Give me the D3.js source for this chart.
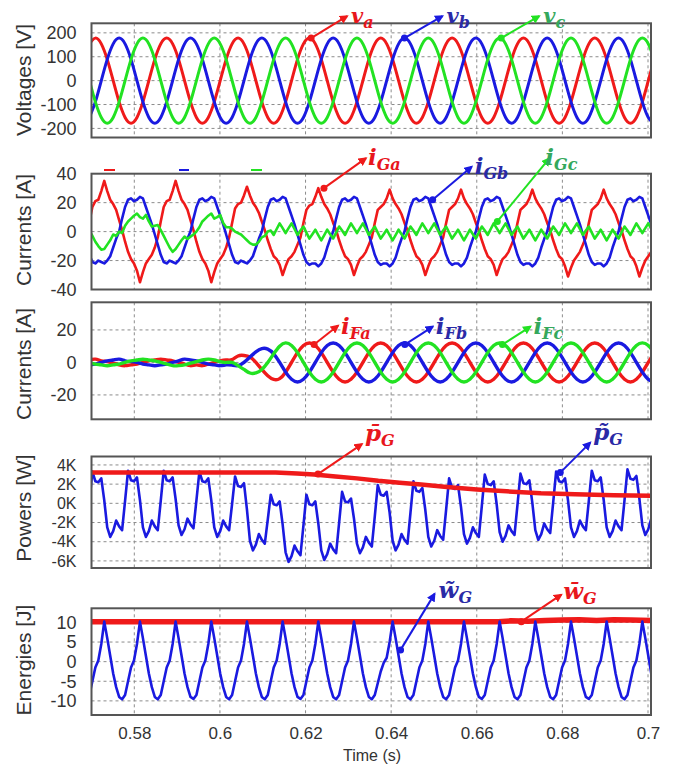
<!DOCTYPE html>
<meta charset="utf-8">
<head>
  <title>Grid, filter and power waveforms</title>
</head>

<style>
body { margin: 0; background: #fff; }
text {
  font-family: "Liberation Sans", Arial, sans-serif;
  fill: #333;
}
.grid line {
  stroke: #8c8c8c;
  stroke-width: 1;
  stroke-dasharray: 3,3;
}
.axis path { display: none; }
.axis text { fill: #333; }
</style>

<body>
  <svg width="676" height="767"></svg>

  <script src="https://cdnjs.cloudflare.com/ajax/libs/d3/7.8.5/d3.min.js"></script>
  <script>

// ---- ticks
var timeTicks = [0.58, 0.6, 0.62, 0.64, 0.66, 0.68, 0.7];
var voltageTicks = [200, 100, 0, -100, -200];
var gridCurrentTicks = [40, 20, 0, -20, -40];
var filterCurrentTicks = [20, 0, -20];
var powerTicks = [4, 2, 0, -2, -4, -6];          // kW, shown as "4K"
var energyTicks = [10, 5, 0, -5, -10];

// ---- sampling of the traces (uniform time grids)
var coarseStart = 0.56951, coarseStep = 0.0013889;   // 30 deg of 60 Hz
var fineStart = 0.56951, fineStep = 0.00069444;      // 15 deg of 60 Hz

// ---- grid voltages (V), coarse grid
var voltA = [
  154,178,154,89,0,-89,-154,-178,-154,-89,0,89,
  154,178,154,89,0,-89,-154,-178,-154,-89,0,89,
  154,178,154,89,0,-89,-154,-178,-154,-89,0,89,
  154,178,154,89,0,-89,-154,-178,-154,-89,0,89,
  154,178,154,89,0,-89,-154,-178,-154,-89,0,89,
  154,178,154,89,0,-89,-154,-178,-154,-89,0,89,
  154,178,154,89,0,-89,-154,-178,-154,-89,0,89,
  154,178,154,89,0,-89,-154,-178,-154,-89,0,89];
var voltB = [
  -154,-89,0,89,154,178,154,89,0,-89,-154,-178,
  -154,-89,0,89,154,178,154,89,0,-89,-154,-178,
  -154,-89,0,89,154,178,154,89,0,-89,-154,-178,
  -154,-89,0,89,154,178,154,89,0,-89,-154,-178,
  -154,-89,0,89,154,178,154,89,0,-89,-154,-178,
  -154,-89,0,89,154,178,154,89,0,-89,-154,-178,
  -154,-89,0,89,154,178,154,89,0,-89,-154,-178,
  -154,-89,0,89,154,178,154,89,0,-89,-154,-178];
var voltC = [
  0,-89,-154,-178,-154,-89,0,89,154,178,154,89,
  0,-89,-154,-178,-154,-89,0,89,154,178,154,89,
  0,-89,-154,-178,-154,-89,0,89,154,178,154,89,
  0,-89,-154,-178,-154,-89,0,89,154,178,154,89,
  0,-89,-154,-178,-154,-89,0,89,154,178,154,89,
  0,-89,-154,-178,-154,-89,0,89,154,178,154,89,
  0,-89,-154,-178,-154,-89,0,89,154,178,154,89,
  0,-89,-154,-178,-154,-89,0,89,154,178,154,89];

// ---- grid currents (A), fine grid
var gridCurA = [
  7,17,21,22,28,
  35,28,22,19,15,8,1,-7,-14,-19,-22,-27,-35,-28,-22,-19,-16,-11,-4,7,17,21,22,28,
  35,28,22,19,15,8,1,-7,-14,-19,-22,-27,-35,-28,-22,-19,-16,-11,-4,6,16,19,20,25,
  31,25,20,17,13,7,1,-6,-12,-17,-19,-23,-30,-24,-19,-17,-14,-9,-4,6,15,18,19,24,
  30,24,19,16,12,6,1,-6,-12,-17,-19,-23,-30,-24,-19,-17,-14,-9,-4,6,15,17,19,23,
  29,23,19,16,12,6,1,-6,-12,-17,-19,-23,-30,-24,-19,-17,-14,-9,-4,6,15,17,19,23,
  29,23,19,16,12,6,1,-6,-12,-17,-19,-23,-30,-24,-19,-17,-14,-9,-4,6,15,17,19,23,
  29,23,19,16,12,6,1,-6,-12,-17,-19,-24,-31,-25,-20,-17,-14,-9,-4,6,15,17,19,23,
  29,23,19,16,12,6,1,-6,-12,-17,-19,-24,-31,-25,-20,-17,-14,-9];
var gridCurB = [
  -16,-21,-22,-20,-21,-22,-20,-17,-11,-5,
  0,9,17,22,23,21,22,24,23,17,11,5,-2,-9,-16,-21,-22,-20,-21,-22,-20,-17,-11,-5,
  0,9,17,22,23,21,22,24,23,17,11,5,-2,-9,-16,-21,-22,-20,-21,-22,-20,-17,-11,-5,
  0,9,17,22,23,21,22,24,23,17,11,5,-2,-9,-16,-21,-23,-22,-22,-24,-22,-18,-11,-5,
  0,9,17,22,23,21,22,24,23,17,11,5,-2,-9,-16,-21,-23,-22,-22,-24,-22,-18,-11,-5,
  0,9,17,22,23,21,22,24,23,17,11,5,-2,-9,-16,-21,-23,-22,-22,-24,-22,-18,-11,-5,
  0,9,17,22,23,21,22,24,23,17,11,5,-2,-9,-16,-21,-23,-22,-22,-24,-22,-18,-11,-5,
  0,9,17,22,23,21,22,24,23,17,11,5,-2,-9,-16,-21,-23,-22,-22,-24,-22,-18,-11,-5,
  0,9,17,22,23,21,22,24,23,17,11,5,-2];
var gridCurC = [
  1,-3,-7,-10,-12.5,-12,-9,-6,-2,-3,0,-1,4,7,9,11,12.5,10,9,11.5,7,3.5,4,4.5,
  1,-3,-7,-11,-14,-12,-9,-6,-3.5,-5,-3.5,-2,0,3,7,9,11,12.5,9,10,11.5,6,3,3,
  2,0,-1,-2,-4,-6,-8,-9,-9,-7,-4,-3,0,
  0.7,-2.3,1.8,5.7,2.4,
  -1,2.4,5.7,1.8,-2.3,0.7,3.5,-0.7,-4.8,-1.8,1.3,-2.4,-6,-2.4,1.3,-1.8,-4.8,-0.7,3.5,0.7,-2.3,1.8,5.7,2.4,
  -1,2.4,5.7,1.8,-2.3,0.7,3.5,-0.7,-4.8,-1.8,1.3,-2.4,-6,-2.4,1.3,-1.8,-4.8,-0.7,3.5,0.7,-2.3,1.8,5.7,2.4,
  -1,2.4,5.7,1.8,-2.3,0.7,3.5,-0.7,-4.8,-1.8,1.3,-2.4,-6,-2.4,1.3,-1.8,-4.8,-0.7,3.5,0.7,-2.3,1.8,5.7,2.4,
  -1,2.4,5.7,1.8,-2.3,0.7,3.5,-0.7,-4.8,-1.8,1.3,-2.4,-6,-2.4,1.3,-1.8,-4.8,-0.7,3.5,0.7,-2.3,1.8,5.7,2.4,
  -1,2.4,5.7,1.8,-2.3,0.7,3.5,-0.7,-4.8,-1.8,1.3,-2.4,-6,-2.4,1.3,-1.8,-4.8,-0.7,3.5,0.7,-2.3,1.8,5.7,2.4,
  -1,2.4,5.7,1.8,-2.3];

// ---- filter currents (A), coarse grid
var filterCurA = [
  1.5,2,1,0.5,-0.5,-1.5,-2,-1.5,-1,0,1,1.5,2,1.5,1,0,-1,-2,-1.5,-2,-1,0,1,1.5,
  1.7,4,4.3,3.3,0,-4.3,-8.2,-10.5,-10,-6,0,6,
  10.4,12,10.4,6,0,-6,-10.4,-12,-10.4,-6,0,6,
  10.4,12,10.4,6,0,-6,-10.4,-12,-10.4,-6,0,6,
  10.4,12,10.4,6,0,-6,-10.4,-12,-10.4,-6,0,6,
  10.4,12,10.4,6,0,-6,-10.4,-12,-10.4,-6,0,6,
  10.4,12,10.4,6,0,-6,-10.4,-12,-10.4,-6,0,6];
var filterCurB = [
  -1.5,-1,0,1,1.5,2,1,0.5,0,-1,-1.5,-2,-1.5,-1,0,1,2,1.5,1,0,-1,-1.5,-2,-1.5,
  -1.7,-2,0,3.3,6.5,8.5,8.2,5.3,0,-6,-10.4,-12,
  -10.4,-6,0,6,10.4,12,10.4,6,0,-6,-10.4,-12,
  -10.4,-6,0,6,10.4,12,10.4,6,0,-6,-10.4,-12,
  -10.4,-6,0,6,10.4,12,10.4,6,0,-6,-10.4,-12,
  -10.4,-6,0,6,10.4,12,10.4,6,0,-6,-10.4,-12,
  -10.4,-6,0,6,10.4,12,10.4,6,0,-6,-10.4,-12];
var filterCurC = [
  0,-1,-1.5,-2,-1.5,-1,0,1,1.5,2,1.5,1,0,-1,-2,-2,-1.5,-0.5,0.5,1.5,2,1.5,0.5,0,
  0,-2,-4.3,-6.5,-6.5,-4.3,0,5.3,10,12,10.4,6,
  0,-6,-10.4,-12,-10.4,-6,0,6,10.4,12,10.4,6,
  0,-6,-10.4,-12,-10.4,-6,0,6,10.4,12,10.4,6,
  0,-6,-10.4,-12,-10.4,-6,0,6,10.4,12,10.4,6,
  0,-6,-10.4,-12,-10.4,-6,0,6,10.4,12,10.4,6,
  0,-6,-10.4,-12,-10.4,-6,0,6,10.4,12,10.4,6];

// ---- oscillating grid power (kW), fine grid
var powerOsc = [
  0.2,
  3.3,2.3,2.2,2.6,0.3,-2.5,-3.5,-2.9,-1.8,-2.4,-2.8,0.25,
  3.4,2.4,2.3,2.7,0.35,-2.5,-3.5,-2.9,-1.8,-2.4,-2.8,0.25,
  3.4,2.4,2.3,2.7,0.45,-2.3,-3.3,-2.7,-1.6,-2.2,-2.6,0.3,
  3.3,2.3,2.2,2.6,0.3,-2.5,-3.5,-2.9,-1.8,-2.4,-2.8,-0.05,
  2.8,1.8,1.7,2.1,-0.65,-3.9,-4.9,-4.3,-3.2,-3.8,-4.2,-1.7,
  0.9,-0.1,-0.2,0.2,-2.2,-5.1,-6.1,-5.5,-4.4,-5.0,-5.4,-2.3,
  0.9,-0.1,-0.2,0.2,-2.1,-4.9,-5.9,-5.3,-4.2,-4.8,-5.2,-2.05,
  1.2,0.2,0.1,0.5,-1.6,-4.2,-5.2,-4.6,-3.5,-4.1,-4.5,-1.35,
  1.9,0.9,0.8,1.2,-1.0,-3.9,-4.9,-4.3,-3.2,-3.8,-4.2,-1.0,
  2.3,1.3,1.2,1.6,-0.7,-3.5,-4.5,-3.9,-2.8,-3.4,-3.8,-0.65,
  2.6,1.6,1.5,1.9,-0.4,-3.2,-4.2,-3.6,-2.5,-3.1,-3.5,-0.3,
  3.0,2.0,1.9,2.3,-0.1,-3.0,-4.0,-3.4,-2.3,-2.9,-3.3,-0.15,
  3.1,2.1,2.0,2.4,0.05,-2.8,-3.8,-3.2,-2.1,-2.7,-3.1,0.05,
  3.3,2.3,2.2,2.6,0.3,-2.5,-3.5,-2.9,-1.8,-2.4,-2.8,0.25,
  3.4,2.4,2.3,2.7,0.35,-2.5,-3.5,-2.9,-1.8,-2.4,-2.8,0.3,
  3.55,2.55,2.45,2.85,0.5,-2.3,-3.3,-2.7,-1.6,-2.2];

// ---- mean grid power (kW)
var powerMeanTime = [0.57, 0.59, 0.605, 0.613, 0.618, 0.622, 0.627, 0.632, 0.637, 0.642, 0.647, 0.653, 0.66, 0.667, 0.675, 0.683, 0.692, 0.701];
var powerMean = [3.2, 3.2, 3.2, 3.2, 3.1, 3.0, 2.8, 2.6, 2.35, 2.15, 1.95, 1.7, 1.45, 1.25, 1.05, 0.95, 0.85, 0.8];

// ---- oscillating energy (J), fine grid
var energyOsc = [
  -8.5,-5,-1.5,0.3,4.5,
  10.2,6,1.5,-3,-6.5,-9,-9.6,-8.5,-5,-1.5,0.3,4.5,
  10.2,6,1.5,-3,-6.5,-9,-9.6,-8.5,-5,-1.5,0.3,4.5,
  10.2,6,1.5,-3,-6.5,-9,-9.5,-8.5,-5,-1.5,0.3,4.5,
  10.2,6,1.5,-3,-6.5,-9,-9.6,-8.5,-5,-1.5,0.3,4.5,
  10.2,6,1.5,-3,-6.5,-9,-9.6,-8.5,-5,-1.5,0.3,4.5,
  10.2,6,1.5,-3,-6.5,-9,-9.5,-8.5,-5,-1.5,0.3,4.5,
  10.2,6,1.5,-3,-6.5,-9,-9.6,-8.5,-5,-1.5,0.3,4.5,
  10.2,6,1.5,-3,-6.5,-9,-9.6,-8.5,-5.5,-2.5,-0.3,1,5,
  10.2,6,1.5,-3,-6.5,-9,-9.6,-8.5,-5,-1.5,0.3,4.5,
  10.2,6,1.5,-3,-6.5,-9,-9.6,-8.5,-5,-1.5,0.3,4.5,
  10.2,6,1.5,-3,-6.5,-9,-9.5,-8.5,-5,-1.5,0.3,4.5,
  10.2,6,1.5,-3,-6.5,-9,-9.6,-8.5,-5,-1.5,0.3,4.5,
  10.2,6,1.5,-3,-6.5,-9,-9.6,-8.5,-5,-1.5,0.3,4.5,
  10.2,6,1.5,-3,-6.5,-9,-9.5,-8.5,-5,-1.5,0.3,4.5,
  10.2,6,1.5,-3,-6.5,-9,-9.6,-8.5,-5,-1.5,0.3,4.5,
  10.2,6,1.5,-3,-6.5];

// ---- mean energy (J)
var energyMeanTime = [0.57, 0.62, 0.665, 0.668, 0.672, 0.676, 0.68, 0.684, 0.688, 0.692, 0.696, 0.701];
var energyMean = [10.2, 10.2, 10.2, 10.4, 10.3, 10.5, 10.6, 10.7, 10.5, 10.7, 10.6, 10.5];


var red = "#ef1a1a", blue = "#1a1ae0", green = "#22e222";
var redText = "#e8161c", blueText = "#2a2aa6", greenText = "#34a85c";

function sampled(values, start, step) {
  return values.map(function(v, i) { return [start + i * step, v]; });
}
function paired(times, values) {
  return times.map(function(t, i) { return [t, values[i]]; });
}

var svg = d3.select('svg');
var x = d3.scaleLinear().domain([0.57, 0.7007]).range([91.5, 651]);

var panels = [
  { top: 23.3, bottom: 137.5, domain: [-238, 240], ticks: voltageTicks, fmt: String,
    title: 'Voltages [V]', titleY: 80, tickFont: 18,
    series: [
      { data: sampled(voltA, coarseStart, coarseStep), color: red, width: 3, curve: d3.curveNatural },
      { data: sampled(voltB, coarseStart, coarseStep), color: blue, width: 3, curve: d3.curveNatural },
      { data: sampled(voltC, coarseStart, coarseStep), color: green, width: 3, curve: d3.curveNatural }
    ] },
  { top: 173.7, bottom: 289.5, domain: [-40, 40], ticks: gridCurrentTicks, fmt: String,
    title: 'Currents [A]', titleY: 230, tickFont: 18,
    series: [
      { data: sampled(gridCurA, fineStart, fineStep), color: red, width: 2.6 },
      { data: sampled(gridCurB, fineStart, fineStep), color: blue, width: 2.6 },
      { data: sampled(gridCurC, fineStart, fineStep), color: green, width: 2.6 }
    ] },
  { top: 302.3, bottom: 419.3, domain: [-35, 37], ticks: filterCurrentTicks, fmt: String,
    title: 'Currents [A]', titleY: 364, tickFont: 18,
    series: [
      { data: sampled(filterCurA, coarseStart, coarseStep), color: red, width: 3.4, curve: d3.curveNatural },
      { data: sampled(filterCurB, coarseStart, coarseStep), color: blue, width: 3.4, curve: d3.curveNatural },
      { data: sampled(filterCurC, coarseStart, coarseStep), color: green, width: 3.4, curve: d3.curveNatural }
    ] },
  { top: 456.5, bottom: 568, domain: [-6.74, 4.88], ticks: powerTicks, fmt: function(d) { return d + 'K'; },
    title: 'Powers [W]', titleY: 508, tickFont: 16,
    series: [
      { data: sampled(powerOsc, fineStart, fineStep), color: blue, width: 2.6 },
      { data: paired(powerMeanTime, powerMean), color: red, width: 4.5 }
    ] },
  { top: 608.3, bottom: 715, domain: [-13.6, 13.6], ticks: energyTicks, fmt: String,
    title: 'Energies [J]', titleY: 660, tickFont: 18,
    series: [
      { data: paired(energyMeanTime, energyMean), color: red, width: 5.5 },
      { data: sampled(energyOsc, fineStart, fineStep), color: blue, width: 2.6 }
    ] }
];

var defs = svg.append('defs');
[['r', red], ['b', blue], ['g', green]].forEach(function(m) {
  defs.append('marker')
    .attr('id', 'head-' + m[0])
    .attr('viewBox', '0 0 10 10')
    .attr('refX', 8).attr('refY', 5)
    .attr('markerWidth', 4.5).attr('markerHeight', 4.5)
    .attr('orient', 'auto')
    .append('path').attr('d', 'M0,0L10,5L0,10z').attr('fill', m[1]);
});

panels.forEach(function(p, pi) {
  var y = d3.scaleLinear().domain(p.domain).range([p.bottom, p.top]);
  p.y = y;
  var g = svg.append('g');

  defs.append('clipPath').attr('id', 'clip' + pi).append('rect')
    .attr('x', x.range()[0]).attr('y', p.top)
    .attr('width', x.range()[1] - x.range()[0]).attr('height', p.bottom - p.top);

  var grid = g.append('g').attr('class', 'grid');
  grid.selectAll('line.h')
    .data(p.ticks.filter(function(d) { return y(d) > p.top + 2 && y(d) < p.bottom - 2; }))
    .enter().append('line').attr('class', 'h')
    .attr('x1', x.range()[0]).attr('x2', x.range()[1])
    .attr('y1', function(d) { return y(d); }).attr('y2', function(d) { return y(d); });
  grid.selectAll('line.v')
    .data(timeTicks)
    .enter().append('line').attr('class', 'v')
    .attr('x1', function(d) { return x(d); }).attr('x2', function(d) { return x(d); })
    .attr('y1', p.top).attr('y2', p.bottom);

  var plot = g.append('g').attr('clip-path', 'url(#clip' + pi + ')');
  p.series.forEach(function(s) {
    var line = d3.line()
      .x(function(d) { return x(d[0]); })
      .y(function(d) { return y(d[1]); })
      .curve(s.curve || d3.curveLinear);
    plot.append('path').datum(s.data)
      .attr('fill', 'none')
      .attr('stroke', s.color)
      .attr('stroke-width', s.width)
      .attr('stroke-linejoin', 'round')
      .attr('d', line);
  });

  g.append('rect')
    .attr('x', x.range()[0]).attr('y', p.top)
    .attr('width', x.range()[1] - x.range()[0]).attr('height', p.bottom - p.top)
    .attr('fill', 'none').attr('stroke', '#555').attr('stroke-width', 2);

  g.append('g').attr('class', 'axis')
    .attr('transform', 'translate(' + x.range()[0] + ',0)')
    .call(d3.axisLeft(y).tickValues(p.ticks).tickFormat(p.fmt).tickSize(0).tickPadding(15))
    .selectAll('text').style('font-size', p.tickFont + 'px').style('font-family', '"Liberation Sans", Arial, sans-serif');

  g.append('text')
    .attr('transform', 'translate(31,' + p.titleY + ') rotate(-90)')
    .attr('text-anchor', 'middle')
    .style('font-size', '21px')
    .text(p.title);
});

// time axis under the last panel
var last = panels[panels.length - 1];
svg.append('g').attr('class', 'axis')
  .attr('transform', 'translate(0,' + last.bottom + ')')
  .call(d3.axisBottom(x).tickValues(timeTicks).tickFormat(d3.format('')).tickSize(0).tickPadding(12))
  .selectAll('text').style('font-size', '17px').style('font-family', '"Liberation Sans", Arial, sans-serif');
svg.append('text')
  .attr('x', 372).attr('y', 761)
  .attr('text-anchor', 'middle')
  .style('font-size', '16px')
  .text('Time (s)');

// leftover legend stubs above the grid-current panel
[[red, 104, 115], [blue, 179, 189], [green, 251, 262]].forEach(function(s) {
  svg.append('line').attr('x1', s[1]).attr('x2', s[2]).attr('y1', 170).attr('y2', 170)
    .attr('stroke', s[0]).attr('stroke-width', 2);
});

// trace labels with arrows
var annotations = [
  { panel: 0, t: 0.6213, v: 178, dx: 36, dy: -22, arrow: 'r', fill: redText, head: 'v', sub: 'a', lx: 4, ly: 7 },
  { panel: 0, t: 0.6431, v: 178, dx: 38, dy: -22, arrow: 'b', fill: blueText, head: 'v', sub: 'b', lx: 4, ly: 7 },
  { panel: 0, t: 0.6657, v: 178, dx: 38, dy: -22, arrow: 'g', fill: greenText, head: 'v', sub: 'c', lx: 4, ly: 7 },
  { panel: 1, t: 0.6243, v: 30, dx: 42, dy: -30, arrow: 'r', fill: redText, head: 'i', sub: 'Ga', lx: 2, ly: 7 },
  { panel: 1, t: 0.6497, v: 22, dx: 39, dy: -33, arrow: 'b', fill: blueText, head: 'i', sub: 'Gb', lx: 3, ly: 7 },
  { panel: 1, t: 0.6648, v: 7, dx: 52, dy: -63, arrow: 'g', fill: greenText, head: 'i', sub: 'Gc', lx: -4, ly: 7 },
  { panel: 2, t: 0.6220, v: 11, dx: 24, dy: -19, arrow: 'r', fill: redText, head: 'i', sub: 'Fa', lx: 3, ly: 8 },
  { panel: 2, t: 0.6432, v: 11, dx: 28, dy: -18, arrow: 'b', fill: blueText, head: 'i', sub: 'Fb', lx: 3, ly: 7 },
  { panel: 2, t: 0.6660, v: 11, dx: 28, dy: -18, arrow: 'g', fill: greenText, head: 'i', sub: 'Fc', lx: 3, ly: 7 },
  { panel: 3, t: 0.6229, v: 3.05, dx: 44, dy: -30, arrow: 'r', fill: redText, head: 'p\u0304', sub: 'G', lx: 3, ly: -3 },
  { panel: 3, t: 0.6795, v: 3.2, dx: 30, dy: -30, arrow: 'b', fill: blueText, head: 'p\u0303', sub: 'G', lx: 3, ly: -3 },
  { panel: 4, t: 0.6422, v: 3, dx: 34, dy: -56, arrow: 'b', fill: blueText, head: 'w\u0303', sub: 'G', lx: 4, ly: 4 },
  { panel: 4, t: 0.6704, v: 10.2, dx: 40, dy: -27, arrow: 'r', fill: redText, head: 'w\u0304', sub: 'G', lx: 2, ly: 4 }
];
var arrowColor = { r: red, b: blue, g: green };

annotations.forEach(function(a) {
  var p = panels[a.panel];
  var px = x(a.t), py = p.y(a.v);
  var tx = px + a.dx, ty = py + a.dy;
  svg.append('line')
    .attr('x1', px).attr('y1', py).attr('x2', tx).attr('y2', ty)
    .attr('stroke', arrowColor[a.arrow]).attr('stroke-width', 2)
    .attr('marker-end', 'url(#head-' + a.arrow + ')');
  svg.append('circle').attr('cx', px).attr('cy', py).attr('r', 3.5).attr('fill', arrowColor[a.arrow]);
  var label = svg.append('text')
    .attr('x', tx + a.lx).attr('y', ty + a.ly)
    .style('fill', a.fill)
    .style('font-family', '"DejaVu Serif", serif')
    .style('font-style', 'italic').style('font-weight', 'bold')
    .style('font-size', a.panel === 0 ? '21px' : '23px');
  label.append('tspan').text(a.head);
  label.append('tspan').attr('dy', 5).style('font-size', '16px').text(a.sub);
});

  </script>
</body>
</html>
